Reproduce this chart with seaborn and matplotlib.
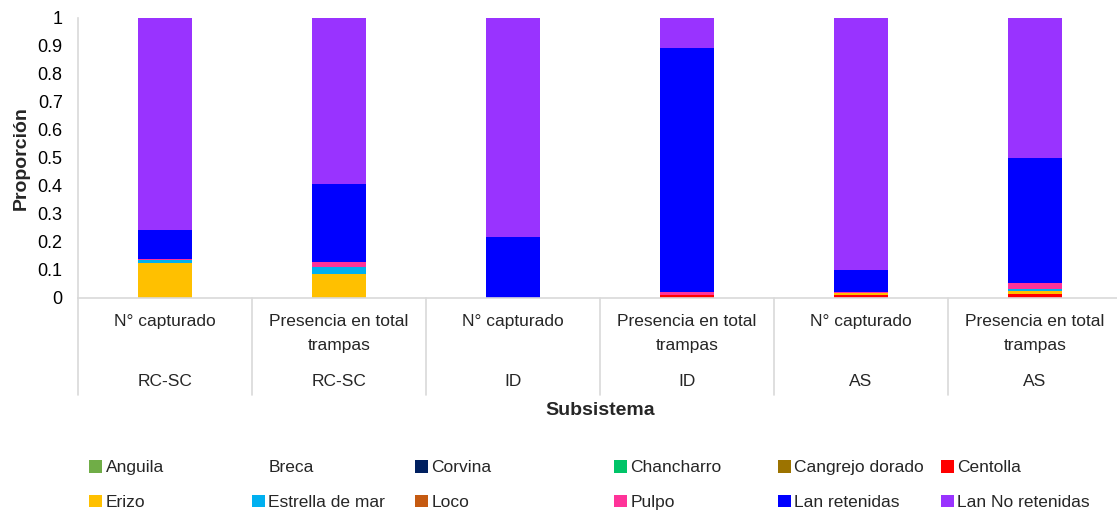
import numpy as np
import pandas as pd
import matplotlib
matplotlib.use("Agg")
import matplotlib.pyplot as plt
import matplotlib.transforms as mtransforms
from matplotlib.patches import Patch
from matplotlib.ticker import FuncFormatter, MultipleLocator
import seaborn as sns

# Categories along the x axis (two-level labels)
medidas = ["N° capturado", "Presencia en total\ntrampas",
           "N° capturado", "Presencia en total\ntrampas",
           "N° capturado", "Presencia en total\ntrampas"]
subsistemas = ["RC-SC", "RC-SC", "ID", "ID", "AS", "AS"]

# Proportion of each group per bar
especies = ["Anguila", "Breca", "Corvina", "Chancharro", "Cangrejo dorado",
            "Centolla", "Erizo", "Estrella de mar", "Loco", "Pulpo",
            "Lan retenidas", "Lan No retenidas"]
anguila         = [0, 0, 0, 0, 0, 0]
breca           = [0, 0, 0, 0, 0, 0]
corvina         = [0, 0, 0, 0, 0, 0]
chancharro      = [0, 0, 0, 0, 0, 0]
cangrejo_dorado = [0, 0, 0, 0, 0, 0]
centolla        = [0, 0, 0, 0.008, 0.008, 0.014]
erizo           = [0.123, 0.085, 0, 0, 0.009, 0.011]
estrella_de_mar = [0.012, 0.024, 0, 0, 0, 0.005]
loco            = [0, 0, 0, 0, 0, 0]
pulpo           = [0.003, 0.018, 0, 0.010, 0.004, 0.022]
lan_retenidas   = [0.102, 0.280, 0.215, 0.875, 0.078, 0.448]
lan_no_retenidas = [0.760, 0.593, 0.785, 0.107, 0.901, 0.500]

colores = ["#70AD47", "#FFFFFF", "#002060", "#00C468", "#9C7300",
           "#FF0000", "#FFC000", "#00B0F0", "#C55A11", "#FF3399",
           "#0000FF", "#9933FF"]

valores = [anguila, breca, corvina, chancharro, cangrejo_dorado, centolla,
           erizo, estrella_de_mar, loco, pulpo, lan_retenidas, lan_no_retenidas]

sns.set_theme(style="white")
plt.rcParams["font.family"] = ["Liberation Sans Narrow", "Liberation Sans", "DejaVu Sans"]

W, H = 1117, 513
fig = plt.figure(figsize=(W / 100, H / 100), dpi=100)
x0, x1 = 78, 1122
ytop, ybot = 18, 297.5
ax = fig.add_axes([x0 / W, 1 - ybot / H, (x1 - x0) / W, (ybot - ytop) / H])

pos = [str(i) for i in range(len(medidas))]
tabla = pd.DataFrame(np.array(valores).T, columns=especies)
acum = tabla[especies].cumsum(axis=1)

# Stacked bars: draw the cumulative totals from the top layer downwards
for i in range(len(especies) - 1, -1, -1):
    nombre = especies[i]
    if tabla[nombre].sum() == 0:
        continue
    sns.barplot(x=pos, y=acum[nombre].values, order=pos, color=colores[i],
                width=0.316, linewidth=0, saturation=1, ax=ax, errorbar=None)

ax.set_xlim(-0.5, len(pos) - 0.5)
ax.set_ylim(0, 1)
ax.yaxis.set_major_locator(MultipleLocator(0.1))
ax.yaxis.set_major_formatter(FuncFormatter(lambda v, p: f"{v:.1f}".rstrip("0").rstrip(".") if v else "0"))
ax.tick_params(axis="y", length=0, labelsize=13, pad=11, colors="#000000")
ax.set_xticks([])
ax.set_xlabel("")
for s in ["top", "right"]:
    ax.spines[s].set_visible(False)
for s in ["left", "bottom"]:
    ax.spines[s].set_color("#D9D9D9")
    ax.spines[s].set_linewidth(1.2)

ax.set_ylabel("Proporción", fontsize=14, fontweight="bold", labelpad=6)

# Two-level category labels with separators
tr = mtransforms.blended_transform_factory(ax.transData, ax.transAxes)
alto = ybot - ytop
def ax_y(py):
    return (ybot - py) / alto

for k in range(len(pos) + 1):
    ax.plot([k - 0.5, k - 0.5], [0, ax_y(395)], transform=tr, color="#D9D9D9",
            lw=1.2, clip_on=False)
for k, (m, s) in enumerate(zip(medidas, subsistemas)):
    ax.text(k, ax_y(314), m, transform=tr, ha="center", va="top",
            fontsize=12.5, linespacing=1.75)
    ax.text(k, ax_y(382), s, transform=tr, ha="center", va="center", fontsize=12.5)

ax.text(2.5, ax_y(410), "Subsistema", transform=tr, ha="center", va="center",
        fontsize=14, fontweight="bold")

# Legend laid out in six columns of two rows
handles = [Patch(facecolor=c, edgecolor="none") for c in colores]
col_x = [89, 252, 415, 614, 778, 941]
for c in range(6):
    idx = [c, c + 6]
    fig.legend([handles[i] for i in idx], [especies[i] for i in idx],
               loc="upper left", bbox_to_anchor=(col_x[c] / W, 1 - 460 / H),
               frameon=False, fontsize=12.5, handlelength=0.75, handleheight=0.75,
               handletextpad=0.2, labelspacing=1.1, borderaxespad=0,
               borderpad=0)

fig.savefig("out.png", dpi=100, facecolor="white")
